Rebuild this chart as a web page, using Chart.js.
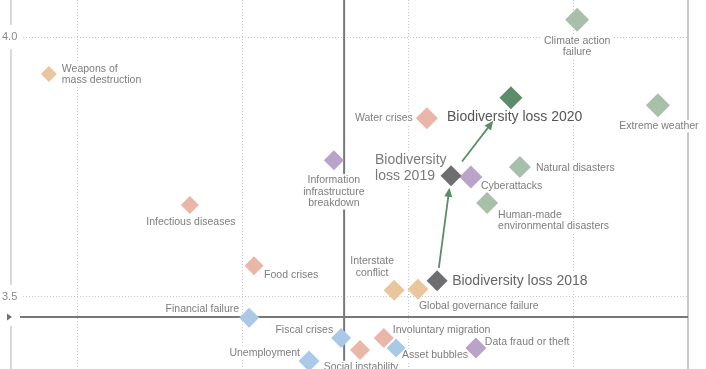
<!DOCTYPE html>
<html>
<head>
<meta charset="utf-8">
<script src="https://cdn.jsdelivr.net/npm/chart.js@4.4.1/dist/chart.umd.min.js"></script>
<style>
  html, body { margin: 0; padding: 0; background: #fff; }
  canvas { display: block; }
</style>
</head>
<body>
<canvas id="landscape" width="706" height="369"></canvas>
<script>
// risks: likelihood on x, impact on y
const risks = [
  "Climate action failure", "Weapons of mass destruction", "Extreme weather", "Water crises",
  "Information infrastructure breakdown", "Cyberattacks", "Natural disasters",
  "Human-made environmental disasters", "Infectious diseases", "Food crises",
  "Interstate conflict", "Global governance failure", "Financial failure", "Fiscal crises",
  "Social instability", "Involuntary migration", "Asset bubbles", "Data fraud or theft",
  "Unemployment", "Biodiversity loss 2018", "Biodiversity loss 2019", "Biodiversity loss 2020"
];
const likelihood = [
  4.011, 2.415, 4.255, 3.557,
  3.276, 3.690, 3.838,
  3.739, 2.841, 3.035,
  3.458, 3.530, 3.020, 3.298,
  3.355, 3.427, 3.464, 3.705,
  3.201, 3.588, 3.630, 3.811
];
const impact = [
  4.033, 3.929, 3.869, 3.844,
  3.763, 3.731, 3.750,
  3.681, 3.677, 3.560,
  3.513, 3.515, 3.460, 3.421,
  3.398, 3.421, 3.402, 3.402,
  3.377, 3.531, 3.733, 3.883
];
const category = [
  "env", "geo", "env", "soc",
  "tech", "tech", "env",
  "env", "soc", "soc",
  "geo", "geo", "econ", "econ",
  "soc", "soc", "econ", "tech",
  "econ", "past", "past", "now"
];

const avgLikelihood = 3.307;
const avgImpact = 3.4615;
const xGrid = [2.5, 3.0, 3.5, 4.0];
const yTicks = [3.5, 4.0];
const trail = ["Biodiversity loss 2018", "Biodiversity loss 2019", "Biodiversity loss 2020"];

// styling
const colors = {
  econ: "#a9c9e7", env: "#a8c0aa", geo: "#e9c69d", soc: "#e9b6a7",
  tech: "#b9a3c9", past: "#6e6e70", now: "#5c8d68"
};
const radii = [12, 8, 12, 11, 10, 11.5, 11, 11, 9, 9.5, 10.5, 10.5, 10, 10, 10, 10, 9.5, 10.5, 10.5, 10.5, 10.5, 11.5];
const SMALL = '10.5px "Liberation Sans", Arial, sans-serif';
const BIG = '14px "Liberation Sans", Arial, sans-serif';
const labelLayout = {
  "Climate action failure": { align: "center", dx: 0, dy: 21, lines: ["Climate action", "failure"] },
  "Weapons of mass destruction": { align: "left", dx: 13, dy: -5, lines: ["Weapons of", "mass destruction"] },
  "Extreme weather": { align: "center", dx: 1, dy: 21 },
  "Water crises": { align: "right", dx: -14, dy: 0 },
  "Information infrastructure breakdown": { align: "center", dx: 0, dy: 20, lines: ["Information", "infrastructure", "breakdown"] },
  "Cyberattacks": { align: "left", dx: 10, dy: 9 },
  "Natural disasters": { align: "left", dx: 16, dy: 1 },
  "Human-made environmental disasters": { align: "left", dx: 11, dy: 12, lines: ["Human-made", "environmental disasters"] },
  "Infectious diseases": { align: "center", dx: 1, dy: 17 },
  "Food crises": { align: "left", dx: 10, dy: 9 },
  "Interstate conflict": { align: "center", dx: -22, dy: -29, lines: ["Interstate", "conflict"] },
  "Global governance failure": { align: "left", dx: 1, dy: 17 },
  "Financial failure": { align: "right", dx: -10, dy: -9 },
  "Fiscal crises": { align: "right", dx: -8, dy: -8 },
  "Social instability": { align: "center", dx: 1, dy: 17 },
  "Involuntary migration": { align: "left", dx: 9, dy: -8 },
  "Asset bubbles": { align: "left", dx: 6, dy: 7 },
  "Data fraud or theft": { align: "left", dx: 9, dy: -6 },
  "Unemployment": { align: "right", dx: -9, dy: -8 },
  "Biodiversity loss 2018": { align: "left", dx: 15, dy: 0, big: true, color: "#666" },
  "Biodiversity loss 2019": { align: "left", dx: -76, dy: -16, big: true, color: "#7a7a7a", lines: ["Biodiversity", "loss 2019"] },
  "Biodiversity loss 2020": { align: "left", dx: -64, dy: 19, big: true, color: "#555" }
};
// pixel gaps between the diamonds and the arrow ends
const arrowGaps = [[13, 12], [18, 29]];

const points = risks.map((r, i) => ({ x: likelihood[i], y: impact[i] }));

function pointPx(chart, name) {
  const i = risks.indexOf(name);
  return { x: chart.scales.x.getPixelForValue(likelihood[i]), y: chart.scales.y.getPixelForValue(impact[i]) };
}

const decorations = {
  id: "decorations",
  beforeDatasetsDraw(chart) {
    const { ctx, chartArea, scales } = chart;
    const H = chart.height;
    ctx.save();
    // left rule and right frame
    ctx.strokeStyle = "#d9d9d9";
    ctx.lineWidth = 2;
    ctx.beginPath(); ctx.moveTo(chartArea.left, 0); ctx.lineTo(chartArea.left, H); ctx.stroke();
    ctx.strokeStyle = "#b4b4b4";
    ctx.lineWidth = 1.5;
    ctx.beginPath(); ctx.moveTo(chartArea.right, 0); ctx.lineTo(chartArea.right, H); ctx.stroke();

    // averages
    const ax = scales.x.getPixelForValue(avgLikelihood);
    const ay = scales.y.getPixelForValue(avgImpact);
    ctx.strokeStyle = "#787878";
    ctx.lineWidth = 2;
    ctx.beginPath(); ctx.moveTo(ax, 0); ctx.lineTo(ax, H); ctx.stroke();
    ctx.beginPath(); ctx.moveTo(20, ay); ctx.lineTo(chartArea.right, ay); ctx.stroke();

    // labels
    ctx.textBaseline = "middle";
    risks.forEach((name, i) => {
      const lay = labelLayout[name];
      if (!lay) return;
      const p = pointPx(chart, name);
      const lines = lay.lines || [name];
      const lh = lay.big ? 16 : 11.5;
      const fs = lay.big ? 14 : 10.5;
      ctx.font = lay.big ? BIG : SMALL;
      ctx.textAlign = lay.align;
      lines.forEach((t, k) => {
        const tx = p.x + lay.dx;
        const ty = p.y + lay.dy + k * lh;
        const w = ctx.measureText(t).width;
        let left = tx;
        if (lay.align === "center") left = tx - w / 2;
        else if (lay.align === "right") left = tx - w;
        ctx.fillStyle = "#fff";
        ctx.fillRect(left - 2, ty - fs / 2 - 1, w + 4, fs + 2);
        ctx.fillStyle = lay.color || "#7d7d7d";
        ctx.fillText(t, tx, ty);
      });
    });

    // y tick labels and the average marker on the left rule
    ctx.font = '11px "Liberation Sans", Arial, sans-serif';
    ctx.textAlign = "left";
    yTicks.forEach(v => {
      const py = scales.y.getPixelForValue(v);
      ctx.fillStyle = "#fff";
      ctx.fillRect(0, py - 12, 22, 24);
      ctx.fillStyle = "#888";
      ctx.fillText(v.toFixed(1), 2, py);
    });
    ctx.fillStyle = "#fff";
    ctx.fillRect(0, ay - 9, 19, 18);
    ctx.fillStyle = "#707070";
    ctx.beginPath();
    ctx.moveTo(7, ay - 3.5); ctx.lineTo(7, ay + 3.5); ctx.lineTo(12, ay); ctx.closePath(); ctx.fill();
    ctx.restore();
  },
  afterDatasetsDraw(chart) {
    const { ctx } = chart;
    ctx.save();
    ctx.strokeStyle = colors.now;
    ctx.fillStyle = colors.now;
    ctx.lineWidth = 1.8;
    for (let k = 0; k < trail.length - 1; k++) {
      const a = pointPx(chart, trail[k]);
      const b = pointPx(chart, trail[k + 1]);
      const dx = b.x - a.x, dy = b.y - a.y;
      const len = Math.hypot(dx, dy);
      const ux = dx / len, uy = dy / len;
      const sx = a.x + ux * arrowGaps[k][0], sy = a.y + uy * arrowGaps[k][0];
      const ex = b.x - ux * arrowGaps[k][1], ey = b.y - uy * arrowGaps[k][1];
      ctx.beginPath();
      ctx.moveTo(sx, sy);
      ctx.lineTo(ex - ux * 6, ey - uy * 6);
      ctx.stroke();
      ctx.beginPath();
      ctx.moveTo(ex, ey);
      ctx.lineTo(ex - ux * 9 - uy * 4, ey - uy * 9 + ux * 4);
      ctx.lineTo(ex - ux * 9 + uy * 4, ey - uy * 9 - ux * 4);
      ctx.closePath();
      ctx.fill();
    }
    ctx.restore();
  }
};

new Chart(document.getElementById("landscape"), {
  type: "scatter",
  data: {
    datasets: [{
      data: points,
      pointStyle: "rectRot",
      pointRadius: radii,
      pointBorderWidth: 0,
      pointBackgroundColor: category.map(c => colors[c]),
      pointBorderColor: category.map(c => colors[c])
    }]
  },
  options: {
    responsive: false,
    animation: false,
    events: [],
    layout: { autoPadding: false, padding: { left: 11, right: 18, top: 0, bottom: 0 } },
    plugins: { legend: { display: false }, tooltip: { enabled: false } },
    scales: {
      x: {
        type: "linear",
        min: 2.3006,
        max: 4.3459,
        afterBuildTicks: s => { s.ticks = xGrid.map(v => ({ value: v })); },
        ticks: { display: false },
        grid: { color: "#c8c8c8", lineWidth: 1, drawTicks: false },
        border: { display: false, dash: [1, 2] }
      },
      y: {
        type: "linear",
        min: 3.3615,
        max: 4.0712,
        afterBuildTicks: s => { s.ticks = yTicks.map(v => ({ value: v })); },
        ticks: { display: false },
        grid: { color: "#c8c8c8", lineWidth: 1, drawTicks: false },
        border: { display: false, dash: [1, 2] }
      }
    }
  },
  plugins: [decorations]
});
</script>
</body>
</html>
